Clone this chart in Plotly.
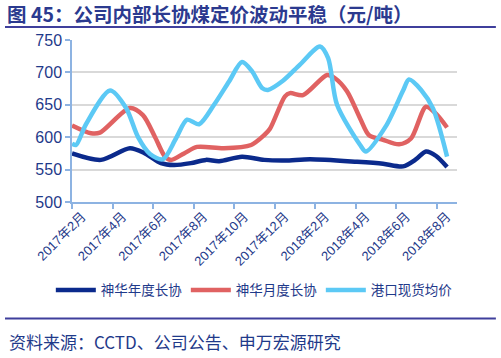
import plotly.graph_objects as go

# x positions: months offset from 2017-02 (0 = 2017年2月)
tick_vals = [0, 2, 4, 6, 8, 10, 12, 14, 16, 18]
tick_text = ["2017年2月", "2017年4月", "2017年6月", "2017年8月", "2017年10月",
             "2017年12月", "2018年2月", "2018年4月", "2018年6月", "2018年8月"]

annual_x = [-0.5, 0.93, 2.36, 3.10, 3.89, 4.53, 5.37, 6.11, 6.76, 7.89, 8.98,
            10.01, 11.25, 13.57, 14.85, 15.84, 16.48, 16.97, 17.47, 18.01]
annual_y = [575, 565, 583, 575, 560, 557, 560, 565, 563, 570, 565,
            564, 566, 562, 559, 555, 566, 578, 571, 554]

monthly_x = [-0.5, 0.44, 0.88, 2.36, 3.00, 3.60, 4.09, 4.39, 5.03, 5.67, 7.00,
             8.34, 8.98, 9.27, 10.01, 10.26, 10.90, 12.09, 12.48, 13.07, 13.72,
             14.16, 14.85, 15.64, 16.23, 16.97, 17.47, 18.01]
monthly_y = [618, 606, 607, 645, 634, 600, 570, 565, 575, 585, 583,
             588, 603, 613, 663, 668, 665, 696, 691, 671, 629,
             603, 596, 589, 598, 647, 636, 615]

port_x = [-0.5, -0.30, 0.19, 1.38, 2.17, 2.76, 3.35, 3.99, 4.63, 5.18, 5.77,
          6.51, 7.25, 7.89, 8.38, 8.88, 9.17, 9.91, 10.75, 11.74, 12.14, 12.58,
          13.72, 14.01, 14.99, 15.84, 16.13, 16.73, 17.32, 18.01]
port_y = [590, 588, 620, 672, 645, 600, 574, 566, 598, 627, 620,
          650, 686, 716, 702, 676, 673, 687, 712, 740, 722, 650,
          588, 578, 617, 672, 689, 673, 644, 570]

series_names = ["神华年度长协", "神华月度长协", "港口现货均价"]
colors = ["#0B2A8C", "#E06262", "#5CC9F5"]

NAVY = "#1F3A8A"
AXIS = "#8DB3E2"
FONT = "Liberation Sans, Noto Sans CJK SC, sans-serif"
CJK = "Noto Sans CJK SC, sans-serif"

fig = go.Figure()
for name, xs, ys, c in zip(series_names, [annual_x, monthly_x, port_x],
                           [annual_y, monthly_y, port_y], colors):
    fig.add_trace(go.Scatter(x=xs, y=ys, name=name, mode="lines",
                             line=dict(color=c, width=4.5, shape="spline", smoothing=0.8)))

fig.update_layout(
    template="none",
    width=501, height=358,
    margin=dict(l=72, r=44, t=40, b=156, autoexpand=False),
    paper_bgcolor="white", plot_bgcolor="white",
    showlegend=True,
    legend=dict(orientation="h", x=-0.055, y=-0.545, xanchor="left", yanchor="middle",
                font=dict(family=CJK, size=13.5, color=NAVY),
                entrywidth=80, entrywidthmode="pixels", itemwidth=40,
                bgcolor="rgba(0,0,0,0)", borderwidth=0),
    xaxis=dict(range=[-0.5, 18.5], tickmode="array", tickvals=tick_vals, ticktext=tick_text,
               tickangle=-45, ticks="", showgrid=False, zeroline=False, automargin=False,
               showline=True, linecolor=AXIS, linewidth=1.5,
               tickfont=dict(family=FONT, size=13, color=NAVY),
               minor=dict(ticks="outside", tick0=-0.5, dtick=2, ticklen=5,
                          tickcolor=AXIS, tickwidth=1.5, showgrid=False)),
    yaxis=dict(range=[500, 750], dtick=50, tick0=500, showgrid=True, gridcolor="#D9D9D9",
               gridwidth=1.5, zeroline=False, showline=True, linecolor=AXIS, linewidth=1.5,
               ticks="outside", ticklen=5, tickcolor=AXIS, tickwidth=1.5, automargin=False,
               tickfont=dict(family=FONT, size=16, color=NAVY)),
)

# title and source
fig.add_annotation(text="<b>图 45：公司内部长协煤定价波动平稳（元/吨）</b>",
                   xref="paper", yref="paper", x=-0.172, y=1.161,
                   xanchor="left", yanchor="middle", showarrow=False, borderpad=0,
                   font=dict(family=CJK, size=19.5, color="#2B3A8F"))
fig.add_annotation(text="资料来源：CCTD、公司公告、申万宏源研究",
                   xref="paper", yref="paper", x=-0.168, y=-0.86,
                   xanchor="left", yanchor="middle", showarrow=False,
                   font=dict(family=CJK, size=17, color=NAVY))
fig.add_shape(type="line", xref="paper", yref="paper", x0=-0.174, x1=1.101, y0=1.080, y1=1.080,
              line=dict(color="#3F3F9C", width=2))
fig.add_shape(type="line", xref="paper", yref="paper", x0=-0.174, x1=1.101, y0=-0.719, y1=-0.719,
              line=dict(color="#3F3F9C", width=2))

fig.write_html("out.html", config={"displayModeBar": False},
               post_script="document.body.style.margin='0';")
